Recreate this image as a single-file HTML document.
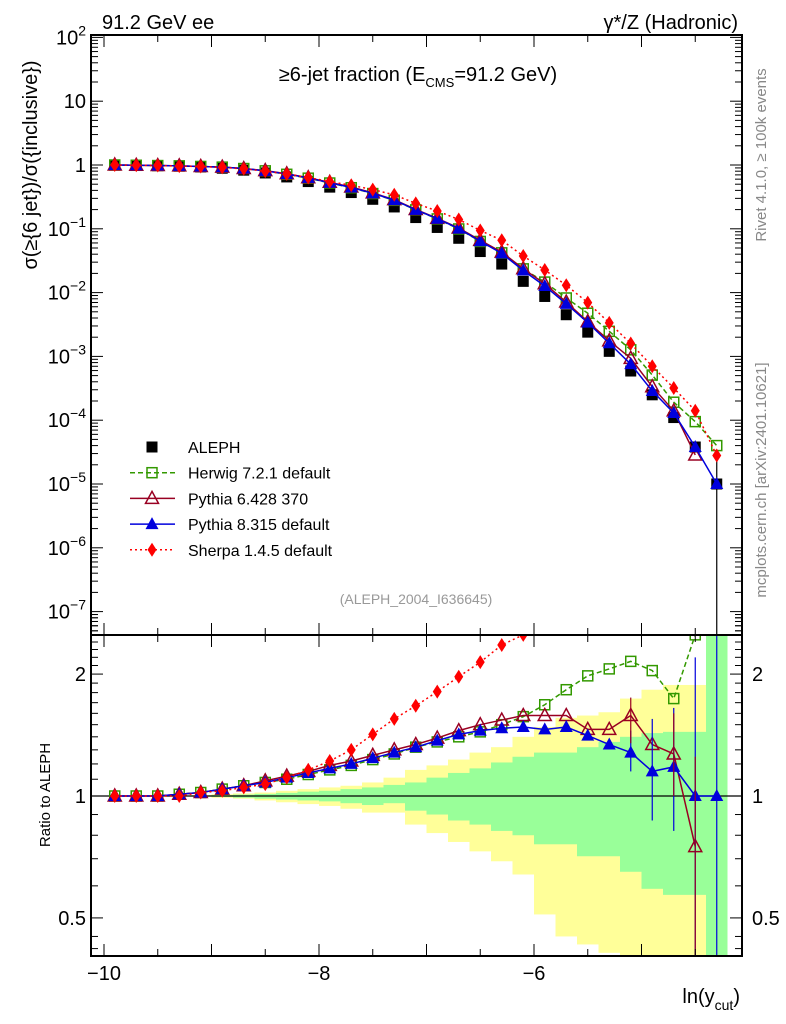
<!DOCTYPE html>
<html><head><meta charset="utf-8"><style>
body{margin:0;background:#fff}
svg{display:block;font-family:"Liberation Sans",sans-serif}
</style></head><body>
<svg id="c" width="786" height="1024" viewBox="0 0 786 1024" xmlns="http://www.w3.org/2000/svg">
<g id="bands"></g>
<g id="marks"></g>
<g id="axes"></g>
<text x="102" y="29" font-size="20">91.2 GeV ee</text>
<text x="738" y="29" font-size="20" text-anchor="end">γ*/Z (Hadronic)</text>
<text x="418" y="81" font-size="20" text-anchor="middle">≥6-jet fraction (E<tspan font-size="13" dy="6">CMS</tspan><tspan dy="-6">=91.2 GeV)</tspan></text>
<text transform="translate(37,165) rotate(-90)" font-size="20" text-anchor="middle">σ(≥{6 jet})/σ({inclusive})</text>
<text transform="translate(50,795) rotate(-90)" font-size="15" text-anchor="middle">Ratio to ALEPH</text>
<text transform="translate(766,155) rotate(-90)" font-size="15" fill="#888" text-anchor="middle">Rivet 4.1.0, ≥ 100k events</text>
<text transform="translate(766,480) rotate(-90)" font-size="15" fill="#888" text-anchor="middle">mcplots.cern.ch [arXiv:2401.10621]</text>
<text x="416" y="604" font-size="14" fill="#999" text-anchor="middle">(ALEPH_2004_I636645)</text>
<text x="740" y="1003" font-size="20" text-anchor="end">ln(y<tspan font-size="14" dy="7">cut</tspan><tspan dy="-7">)</tspan></text>
<g id="legend"></g>
</svg>
<script>
const xs=[-9.9,-9.7,-9.5,-9.3,-9.1,-8.9,-8.7,-8.5,-8.3,-8.1,-7.9,-7.7,-7.5,-7.3,-7.1,-6.9,-6.7,-6.5,-6.3,-6.1,-5.9,-5.7,-5.5,-5.3,-5.1,-4.9,-4.7,-4.5,-4.3];
const aleph=[1.0,0.99,0.98,0.96,0.93,0.89,0.83,0.75,0.65,0.55,0.45,0.37,0.29,0.22,0.15,0.105,0.071,0.044,0.028,0.015,0.0087,0.0045,0.0024,0.0012,5.9e-4,2.5e-4,1.1e-4,3.8e-5,1.0e-5];
const herwigR=[1.0,1.0,1.0,1.01,1.02,1.04,1.06,1.08,1.1,1.13,1.16,1.19,1.23,1.27,1.32,1.36,1.40,1.44,1.5,1.57,1.68,1.83,1.98,2.06,2.15,2.04,1.74,2.5,4.0];
const py6R=[1.0,1.0,1.0,1.01,1.02,1.04,1.06,1.09,1.12,1.15,1.19,1.22,1.26,1.3,1.34,1.39,1.45,1.5,1.54,1.58,1.58,1.58,1.46,1.46,1.58,1.34,1.27,0.75,null];
const py8R=[1.0,1.0,1.0,1.01,1.02,1.04,1.06,1.08,1.11,1.14,1.17,1.2,1.24,1.28,1.32,1.37,1.42,1.45,1.47,1.48,1.46,1.48,1.41,1.34,1.28,1.15,1.18,1.0,1.0];
const sherpaR=[1.0,1.0,1.0,1.0,1.02,1.03,1.05,1.07,1.11,1.16,1.22,1.3,1.42,1.55,1.67,1.81,1.97,2.14,2.36,2.5,2.6,2.9,2.9,2.8,2.7,2.8,2.9,3.7,2.8];
const greenUp=[1,1,1,1,1.003,1.005,1.008,1.012,1.018,1.025,1.03,1.04,1.05,1.065,1.08,1.11,1.14,1.17,1.21,1.25,1.28,1.28,1.32,1.36,1.4,1.43,1.44,1.44,2.6];
const greenLo=[1,1,1,1,0.997,0.995,0.99,0.985,0.98,0.975,0.97,0.96,0.95,0.96,0.92,0.90,0.87,0.85,0.82,0.80,0.76,0.76,0.71,0.71,0.65,0.59,0.57,0.57,0.38];
const yellowUp=[1,1,1,1,1.005,1.01,1.015,1.02,1.03,1.04,1.05,1.06,1.08,1.11,1.16,1.19,1.23,1.28,1.32,1.4,1.48,1.56,1.58,1.61,1.74,1.83,1.88,1.88,2.6];
const yellowLo=[1,1,1,1,0.995,0.99,0.985,0.975,0.965,0.955,0.945,0.93,0.91,0.91,0.85,0.81,0.77,0.73,0.69,0.64,0.51,0.45,0.43,0.41,0.38,0.38,0.38,0.38,0.38];
const mainTicks=[2,1,0,-1,-2,-3,-4,-5,-6,-7];
const ratioTicks=[2,1,0.5];
const xTicks=[-10,-8,-6];

const NS='http://www.w3.org/2000/svg';
const L=91,R=742,T=35,M=635,B=956;
const X=v=>104+(v+10)*107.5;
const Y=v=>165-63.8*Math.log10(v);
const YR=v=>796-405*Math.log10(v);
function mk(tag,attrs,parent){const e=document.createElementNS(NS,tag);for(const k in attrs)e.setAttribute(k,attrs[k]);parent.appendChild(e);return e;}
const bands=document.getElementById('bands'),marks=document.getElementById('marks'),axes=document.getElementById('axes'),leg=document.getElementById('legend');
const clipR=v=>Math.max(M,Math.min(B,v));
xs.forEach((x,i)=>{
 const x0=X(x-0.1),x1=X(x+0.1);
 let r=mk('rect',{x:x0,y:clipR(YR(yellowUp[i])),width:x1-x0,height:clipR(YR(yellowLo[i]))-clipR(YR(yellowUp[i])),fill:'#ffff99'},bands);
 
 let g=mk('rect',{x:x0,y:clipR(YR(greenUp[i])),width:x1-x0,height:clipR(YR(greenLo[i]))-clipR(YR(greenUp[i])),fill:'#99ff99'},bands);
 
});
let ref=mk('line',{x1:L,x2:R,y1:YR(1),y2:YR(1),stroke:'#000','stroke-width':1.2},bands);

const defs=mk('defs',{},document.getElementById('c'));
const cp1=mk('clipPath',{id:'cm'},defs);mk('rect',{x:L,y:T,width:R-L,height:M-T},cp1);
const cp2=mk('clipPath',{id:'cr'},defs);mk('rect',{x:L,y:M,width:R-L,height:B-M},cp2);
const gm=mk('g',{'clip-path':'url(#cm)'},marks),gr=mk('g',{'clip-path':'url(#cr)'},marks);
function marker(type,cx,cy,col,p,name){
 let e;
 if(type==='sq')e=mk('rect',{x:cx-5.5,y:cy-5.5,width:11,height:11,fill:col},p);
 else if(type==='osq')e=mk('rect',{x:cx-5,y:cy-5,width:10,height:10,fill:'none',stroke:col,'stroke-width':1.5},p);
 else if(type==='otri')e=mk('path',{d:`M${cx},${cy-7}L${cx+6.5},${cy+5}L${cx-6.5},${cy+5}Z`,fill:'none',stroke:col,'stroke-width':1.5},p);
 else if(type==='tri')e=mk('path',{d:`M${cx},${cy-7}L${cx+6.5},${cy+5}L${cx-6.5},${cy+5}Z`,fill:col},p);
 else e=mk('path',{d:`M${cx},${cy-7}L${cx+4.5},${cy}L${cx},${cy+7}L${cx-4.5},${cy}Z`,fill:col},p);
 
}
const series=[
 {r:herwigR,col:'#339900',m:'osq',dash:'5,3',name:'herwig'},
 {r:py6R,col:'#990022',m:'otri',dash:'',name:'pythia6'},
 {r:py8R,col:'#0000dd',m:'tri',dash:'',name:'pythia8'},
 {r:sherpaR,col:'#ff0000',m:'dia',dash:'2,3',name:'sherpa'}];
xs.forEach((x,i)=>marker('sq',X(x),Y(aleph[i]),'#000',gm,'aleph-point'));
let eb=mk('line',{x1:X(-4.3),x2:X(-4.3),y1:Y(aleph[28])-30,y2:M,stroke:'#000','stroke-width':1.2},gm);

series.forEach(s=>{
 let pm=[],pr=[];
 xs.forEach((x,i)=>{if(s.r[i]==null)return;pm.push([X(x),Y(aleph[i]*s.r[i])]);pr.push([X(x),YR(s.r[i])]);});
 let l1=mk('polyline',{points:pm.map(p=>p.join(',')).join(' '),fill:'none',stroke:s.col,'stroke-width':1.5,'stroke-dasharray':s.dash},gm);
 
 let l2=mk('polyline',{points:pr.map(p=>p.join(',')).join(' '),fill:'none',stroke:s.col,'stroke-width':1.5,'stroke-dasharray':s.dash},gr);
 
 pm.forEach(p=>marker(s.m,p[0],p[1],s.col,gm,s.name+'-point'));
 pr.forEach(p=>marker(s.m,p[0],p[1],s.col,gr,s.name+'-ratio-point'));
});
[[-4.5,0.4,2.2,'#0000dd'],[-4.3,0.4,2.5,'#0000dd'],[-4.7,0.82,1.65,'#0000dd'],[-4.9,0.87,1.55,'#0000dd'],[-5.1,1.15,1.45,'#0000dd'],[-4.5,0.4,1.25,'#990022'],[-4.7,1.0,1.6,'#990022'],[-5.1,1.35,1.75,'#990022']].forEach(e=>{
 let l=mk('line',{x1:X(e[0]),x2:X(e[0]),y1:clipR(YR(e[2])),y2:clipR(YR(e[1])),stroke:e[3],'stroke-width':1.2},gr);
 
});
let fr=mk('rect',{x:L,y:T,width:R-L,height:B-T,fill:'none',stroke:'#000','stroke-width':2},axes);

let sp=mk('line',{x1:L,x2:R,y1:M,y2:M,stroke:'#000','stroke-width':2},axes);

const tk=(x1,y1,x2,y2)=>mk('line',{x1,y1,x2,y2,stroke:'#000','stroke-width':1},axes);
mainTicks.forEach(p=>{
 const y=Y(Math.pow(10,p));
 tk(L,y,L+12,y);tk(R,y,R-12,y);
 for(let k=2;k<10;k++){const yy=Y(k*Math.pow(10,p-1));if(yy>T&&yy<M){tk(L,yy,L+7,yy);tk(R,yy,R-7,yy);}}
 let t=mk('text',{x:86,y:y+7,'font-size':20,'text-anchor':'end'},axes);
 if(p===0)t.textContent='1';else if(p===1)t.textContent='10';
 else{t.textContent='10';const s=mk('tspan',{'font-size':14,dy:-9},t);s.textContent=p===2?'2':'−'+(-p);}
 
});
for(let k=2;k<10;k++){const yy=Y(k*1e-8);if(yy>T&&yy<M){tk(L,yy,L+7,yy);tk(R,yy,R-7,yy);}}
ratioTicks.forEach(v=>{
 const y=YR(v);tk(L,y,L+12,y);tk(R,y,R-12,y);
 let t=mk('text',{x:86,y:y+7,'font-size':20,'text-anchor':'end'},axes);t.textContent=String(v);
 
 let t2=mk('text',{x:752,y:y+7,'font-size':20},axes);t2.textContent=String(v);
 
});
[0.6,0.7,0.8,0.9,1.1,1.2,1.3,1.4,1.5,1.6,1.7,1.8,1.9,2.1,2.2,2.3,2.4,0.45,0.42].forEach(v=>{const y=YR(v);tk(L,y,L+7,y);tk(R,y,R-7,y);});
for(let v=-10;v<=-4.25;v+=0.5){
 const x=X(v),big=Math.abs(v-Math.round(v))<0.01;
 const h=big?12:7;
 tk(x,T,x,T+h);tk(x,M,x,M-h);tk(x,M,x,M+h);tk(x,B,x,B-h);
}
xTicks.forEach(v=>{let t=mk('text',{x:X(v),y:980,'font-size':20,'text-anchor':'middle'},axes);t.textContent='−'+(-v);
 });
const legItems=[['ALEPH','#000','sq',''],['Herwig 7.2.1 default','#339900','osq','5,3'],['Pythia 6.428 370','#990022','otri',''],['Pythia 8.315 default','#0000dd','tri',''],['Sherpa 1.4.5 default','#ff0000','dia','2,3']];
legItems.forEach((it,i)=>{
 const y=447+i*25.7;
 if(i>0){let l=mk('line',{x1:130,x2:175,y1:y,y2:y,stroke:it[1],'stroke-width':1.5,'stroke-dasharray':it[3]},leg);
  }
 marker(it[2],152,y,it[1],leg,'legend-marker');
 let t=mk('text',{x:188,y:y+6,'font-size':16},leg);t.textContent=it[0];
 
});
</script>
</body></html>
